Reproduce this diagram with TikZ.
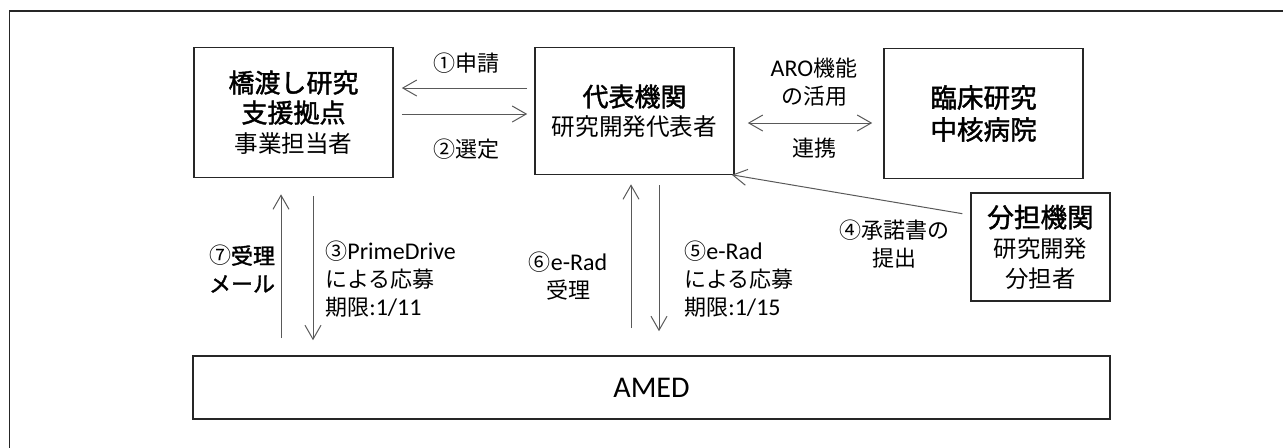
\documentclass[tikz,border=0pt]{standalone}
\usepackage{fontspec}
\setmainfont{Noto Sans CJK JP}[BoldFont={Noto Sans CJK JP},BoldFeatures={FakeBold=1.6}]
\newfontfamily\latfont[Scale=1.09]{Carlito}
\usetikzlibrary{arrows.meta}

\begin{document}
\begin{tikzpicture}[
      x=0.5pt,y=-0.5pt,
      boite/.style={
        draw=black!85,
        line width=0.8pt,
        align=center,
        inner sep=0pt,
        minimum width=99.5pt,
        minimum height=65pt
      },
      fleche/.style={
        draw=black!65,
        line width=0.5pt,
        -{Straight Barb[length=7pt,width=8pt]}
      },
      legende/.style={
        align=center,
        inner sep=0pt,
        font=\fontsize{11}{14}\selectfont
      }
    ]
      \useasboundingbox (0,0) rectangle (1283,447);
      \clip (0,0) rectangle (1283,447);
      \draw[line width=0.8pt,black!85] (9.5,470) -- (9.5,11) -- (1300,11);

      \node (b1) at (293.5,112.5) [boite,font=\fontsize{13}{15}\selectfont]{\textbf{橋渡し研究}\\\textbf{支援拠点}\\{\fontsize{11.8}{14}\selectfont 事業担当者}};
      \node (b2) at (634.5,111) [boite,minimum height=63.5pt,font=\fontsize{13}{14.5}\selectfont]{\textbf{代表機関}\\{\fontsize{11.8}{14}\selectfont 研究開発代表者}};
      \node (b3) at (983.5,113.5) [boite,font=\fontsize{13.3}{16}\selectfont]{\textbf{臨床研究}\\\textbf{中核病院}};
      \node (b4) at (1040.5,247) [boite,minimum width=69.5pt,minimum height=54pt,font=\fontsize{13.3}{15}\selectfont]{\textbf{分担機関}\\{\fontsize{11.7}{14}\selectfont 研究開発}\\{\fontsize{11.7}{14}\selectfont 分担者}};
      \node (b5) at (651.5,387.5) [boite,minimum width=458.5pt,minimum height=31.5pt]{\fontsize{13.8}{16}\selectfont\latfont AMED};

      \node (e1) at (466,63) [legende]{①申請};
      \node (e2) at (466,149) [legende]{②選定};
      \node (e3) at (814,82) [legende]{{\latfont ARO}機能\\の活用};
      \node (e4) at (814,148) [legende]{連携};
      \node (e5) at (894,244) [legende]{④承諾書の\\提出};
      \node (e6) at (242,269) [legende]{⑦\textbf{受理}\\\textbf{メール}};
      \node (e7) at (325,279) [legende,anchor=west,align=left]{③{\latfont PrimeDrive}\\による応募\\期限{\latfont :1/11}};
      \node (e8) at (568,276) [legende]{⑥{\latfont e-Rad}\\受理};
      \node (e9) at (684,279) [legende,anchor=west,align=left]{⑤{\latfont e-Rad}\\による応募\\期限{\latfont :1/15}};

      \draw[fleche,shorten <=3.5pt,shorten >=4pt] (b2.west |- 0,88) -- (b1.east |- 0,88);
      \draw[fleche,shorten <=4pt,shorten >=3.5pt] (b1.east |- 0,114) -- (b2.west |- 0,114);
      \draw[fleche,{Straight Barb[length=7pt,width=8pt]}-{Straight Barb[length=7pt,width=8pt]},shorten <=6.5pt,shorten >=5.5pt] (b2.east |- 0,123) -- (b3.west |- 0,123);
      \draw[fleche,shorten <=4pt,shorten >=-1.5pt] ([yshift=16pt]b4.west) -- (b2.south east);

      \draw[fleche,shorten <=8.5pt,shorten >=8pt] (b5.north -| 281,0) -- (b1.south -| 281,0);
      \draw[fleche,shorten <=9pt,shorten >=7.5pt] (b1.south -| 313,0) -- (b5.north -| 313,0);
      \draw[fleche,shorten <=13.5pt,shorten >=4.5pt] (b5.north -| 631,0) -- (b2.south -| 631,0);
      \draw[fleche,shorten <=5pt,shorten >=12pt] (b2.south -| 659,0) -- (b5.north -| 659,0);

    \end{tikzpicture}
\end{document}
